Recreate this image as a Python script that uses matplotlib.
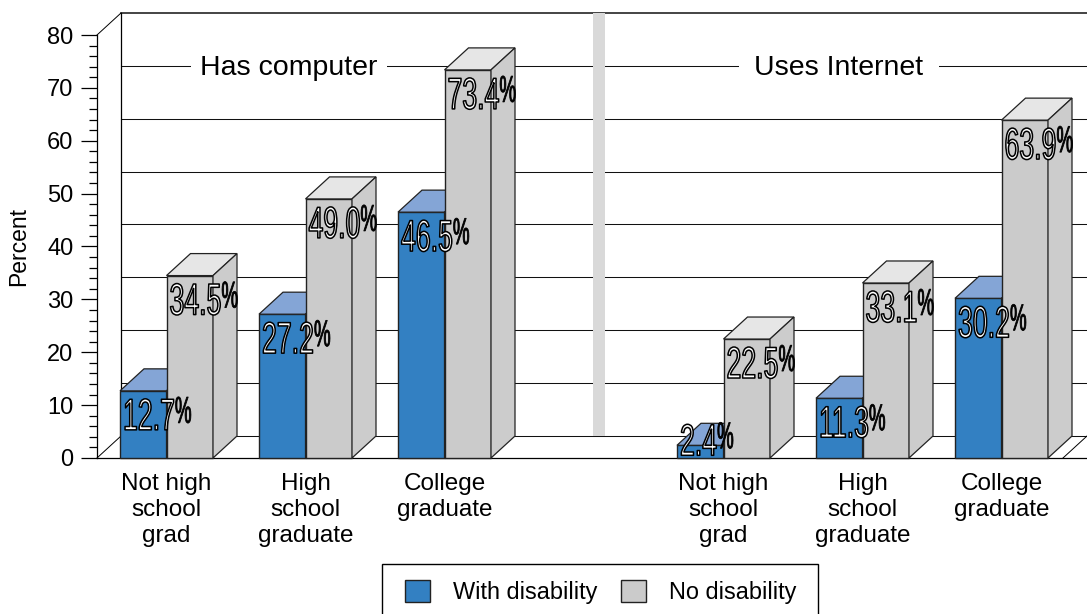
import matplotlib
matplotlib.use('Agg')
import matplotlib.pyplot as plt
from matplotlib.colors import to_rgb
from matplotlib.patches import Patch, Rectangle
from matplotlib.patheffects import AbstractPathEffect
from matplotlib.transforms import Affine2D

# Datos
categories = ['Not high\nschool\ngrad', 'High\nschool\ngraduate', 'College\ngraduate']
panels = ['Has computer', 'Uses Internet']
with_disability = [12.7, 27.2, 46.5, 2.4, 11.3, 30.2]
no_disability = [34.5, 49.0, 73.4, 22.5, 33.1, 63.9]
legend_labels = ['With disability', 'No disability']

# Layout in reference pixels
W, H = 1087, 614
LEFT, BASE, TOP80 = 97, 458, 35
DX = 24
PX_PER_UNIT = (BASE - TOP80) / 80
DY = 22 / PX_PER_UNIT
BAR_W = 46.5
starts = [120, 259, 398, 677, 816, 955]

BLUE, BLUE_TOP = '#3380c2', '#84a5d6'
GREY, GREY_TOP, GREY_SIDE = '#cbcbcb', '#e6e6e6', '#cccccc'
EDGE = '#222222'
FONT = 'Liberation Sans'
NUM_SQUEEZE, PCT_SQUEEZE = 0.6, 0.5


class Condensed(AbstractPathEffect):
    # squeezes the glyphs horizontally, the label stays a real text
    def __init__(self, sx, fill, stroke_width):
        super().__init__()
        self.sx = sx
        self.fill = to_rgb(fill)
        self.stroke_width = stroke_width

    def draw_path(self, renderer, gc, tpath, affine, rgbFace=None):
        squeezed = Affine2D().scale(self.sx, 1) + affine
        gc0 = renderer.new_gc()
        gc0.copy_properties(gc)
        gc0.set_foreground('black')
        gc0.set_linewidth(self.stroke_width)
        renderer.draw_path(gc0, tpath, squeezed, self.fill)
        gc0.restore()


plt.rcParams['font.family'] = FONT
fig = plt.figure(figsize=(W / 100, H / 100), dpi=100)
ax = fig.add_axes([LEFT / W, 1 - BASE / H, (W - LEFT) / W, (BASE - TOP80) / H])
ax.set_xlim(LEFT, W)
ax.set_ylim(0, 80)
ax.set_facecolor('none')

for side in ['top', 'right']:
    ax.spines[side].set_visible(False)
ax.spines['left'].set_linewidth(0.9)
ax.spines['bottom'].set_linewidth(0.9)

# Back wall and grid
for v in range(0, 81, 10):
    lw = 1.1 if v == 80 else 0.75
    ax.plot([LEFT + DX, W], [v + DY, v + DY], color='#111111', lw=lw, clip_on=False, zorder=1)
ax.plot([LEFT + DX, LEFT + DX], [DY, 80 + DY], color='black', lw=0.9, clip_on=False, zorder=1)
ax.plot([LEFT, LEFT + DX], [0, DY], color='black', lw=0.7, clip_on=False, zorder=1)
ax.plot([LEFT, LEFT + DX], [80, 80 + DY], color='black', lw=0.7, clip_on=False, zorder=1)
ax.plot([W - DX, W], [0, DY], color='black', lw=0.7, clip_on=False, zorder=1)
ax.fill_between([593, 605], DY, 80 + DY, color='#d9d9d9', lw=0, clip_on=False, zorder=2)

panel_y = 70 + DY - 2 / PX_PER_UNIT
ax.text(289, panel_y, panels[0], fontsize=20.5, ha='center', va='center', zorder=2,
        bbox=dict(facecolor='white', edgecolor='none', pad=7))
ax.text(839, panel_y, panels[1], fontsize=20.5, ha='center', va='center', zorder=2,
        bbox=dict(facecolor='white', edgecolor='none', pad=11))


def draw_bar(x, value, face, top, z):
    ax.bar(x, value, BAR_W, align='edge', color=face, edgecolor=EDGE, lw=1, clip_on=False, zorder=z)
    ax.fill([x, x + DX, x + BAR_W + DX, x + BAR_W], [value, value + DY, value + DY, value],
            facecolor=top, edgecolor=EDGE, lw=0.9, clip_on=False, zorder=z)
    ax.fill([x + BAR_W, x + BAR_W + DX, x + BAR_W + DX, x + BAR_W], [0, DY, value + DY, value],
            facecolor=GREY_SIDE, edgecolor=EDGE, lw=0.9, clip_on=False, zorder=z)


def draw_label(x, value, z, drop=39):
    base = value - drop / PX_PER_UNIT
    num = ax.text(x + 3, base, f'{value:.1f}', fontsize=32, ha='left', va='baseline', zorder=z,
                  clip_on=False, path_effects=[Condensed(NUM_SQUEEZE, 'white', 1.1)])
    width = num.get_window_extent(fig.canvas.get_renderer()).width * NUM_SQUEEZE
    ax.text(x + 3 + width, base + 7 / PX_PER_UNIT, '%', fontsize=27, ha='left', va='baseline', zorder=z,
            clip_on=False, path_effects=[Condensed(PCT_SQUEEZE, 'black', 0.6)])


for i, x in enumerate(starts):
    draw_bar(x, with_disability[i], BLUE, BLUE_TOP, 3 + i * 2)
    draw_bar(x + BAR_W, no_disability[i], GREY, GREY_TOP, 4 + i * 2)

# labels on top of every bar
for i, x in enumerate(starts):
    draw_label(x, with_disability[i], 20, drop=10 if with_disability[i] < 5 else 39)
    draw_label(x + BAR_W, no_disability[i], 20)

ax.set_yticks(range(0, 81, 10))
ax.set_yticks(range(0, 81, 2), minor=True)
ax.tick_params(axis='y', which='major', length=11.5, width=0.9, labelsize=17, pad=5.5)
ax.tick_params(axis='y', which='minor', length=5.5, width=0.9)
ax.set_xticks([x + BAR_W for x in starts])
ax.set_xticklabels(categories * 2, fontsize=17.5, linespacing=1.236)
ax.tick_params(axis='x', length=0, pad=10.5)
ax.set_ylabel('Percent', fontsize=16.5)
ax.yaxis.set_label_coords(30 / W, 1 - 247 / H, transform=fig.transFigure)

# legend box runs past the bottom edge of the picture
fig.add_artist(Rectangle((382 / W, -10 / H), 436 / W, 60 / H, transform=fig.transFigure,
                         facecolor='white', edgecolor='black', lw=1, zorder=1))
handles = [Patch(facecolor=BLUE, edgecolor=EDGE), Patch(facecolor=GREY, edgecolor=EDGE)]
fig.legend(handles, legend_labels, loc='center left', bbox_to_anchor=(405 / W, 1 - 592 / H), ncol=2,
           fontsize=16.9, frameon=False, handlelength=1.05, handleheight=1.05, handletextpad=1.0,
           columnspacing=1.0, borderpad=0, borderaxespad=0)

fig.savefig('out.png', dpi=100)
